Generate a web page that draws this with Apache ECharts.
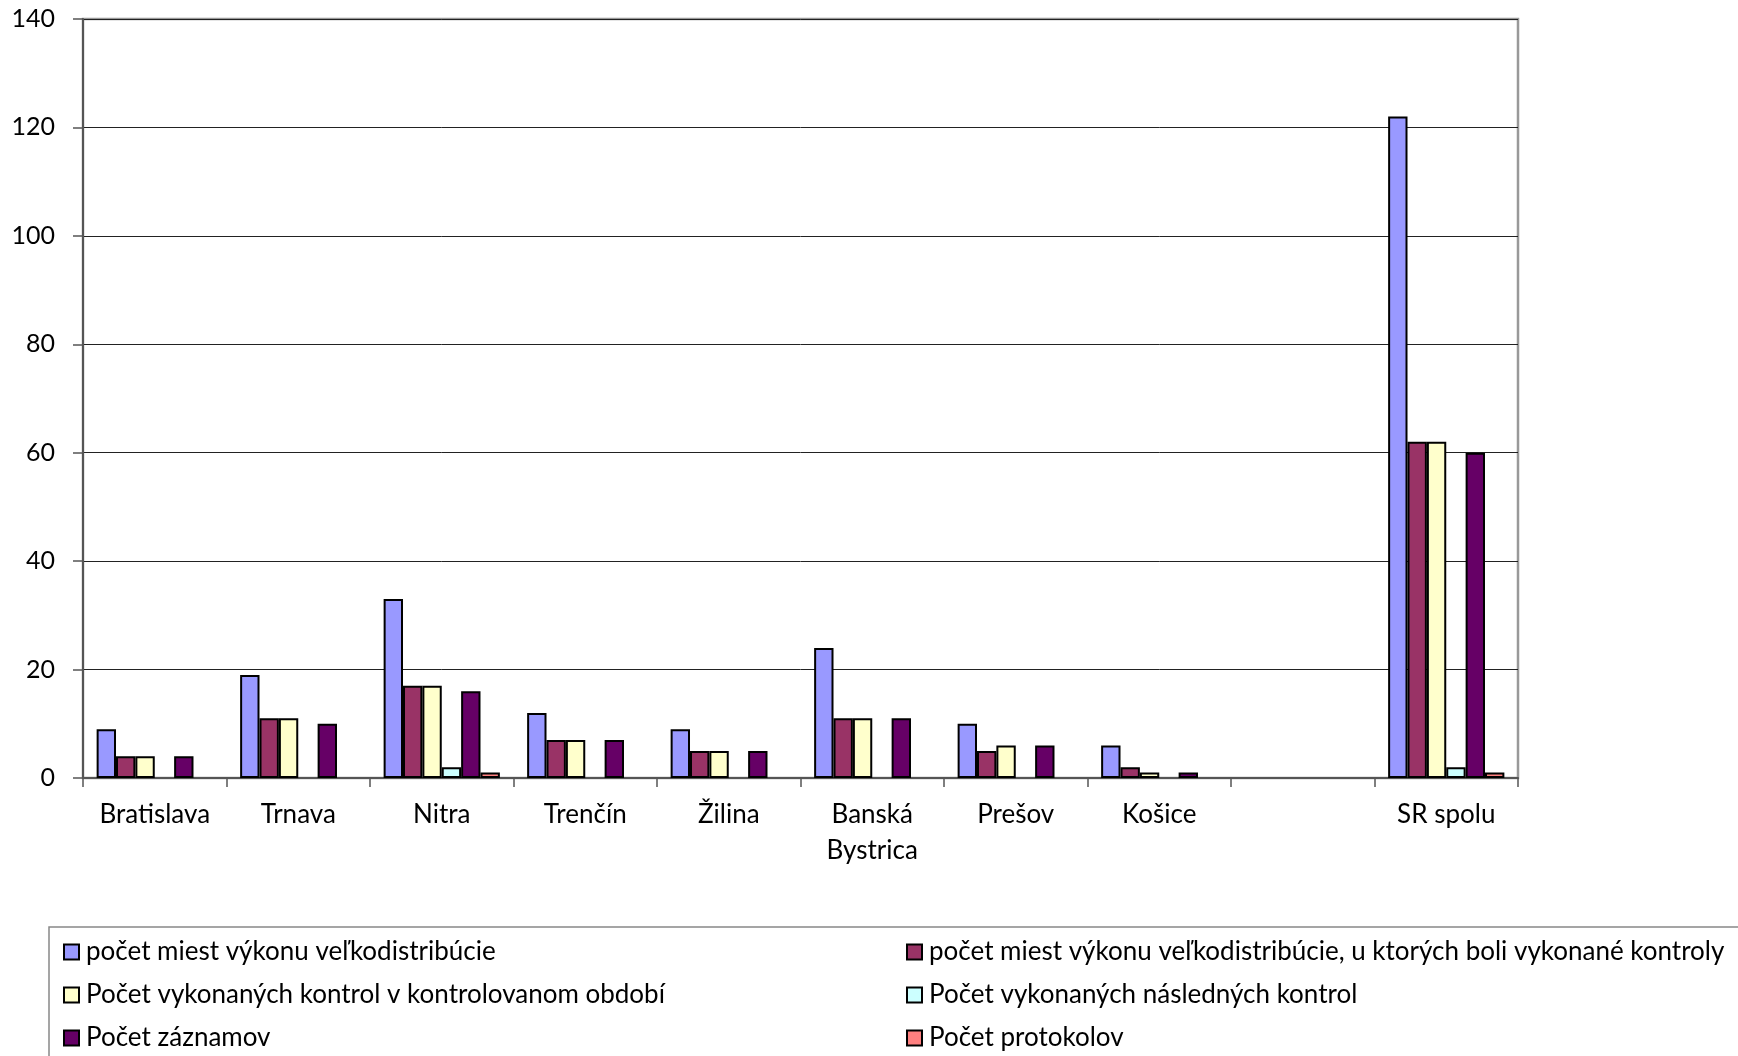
<!DOCTYPE html>
<html>
<head>
<meta charset="utf-8">
<script src="https://cdn.jsdelivr.net/npm/echarts@6/dist/echarts.min.js"></script>
<style>
html,body{margin:0;padding:0;background:#fff;}
#chart{width:1738px;height:1056px;}
</style>
</head>
<body>
<div id="chart"></div>
<script>
const categories = ['Bratislava','Trnava','Nitra','Trenčín','Žilina','Banská\nBystrica','Prešov','Košice','','SR spolu'];
const seriesNames = [
  'počet miest výkonu veľkodistribúcie',
  'počet miest výkonu veľkodistribúcie, u ktorých boli vykonané kontroly',
  'Počet vykonaných kontrol v kontrolovanom období',
  'Počet vykonaných následných kontrol',
  'Počet záznamov',
  'Počet protokolov'
];
const miesta      = [9, 19, 33, 12, 9, 24, 10, 6, null, 122];
const miestaKontr = [4, 11, 17, 7, 5, 11, 5, 2, null, 62];
const kontroly    = [4, 11, 17, 7, 5, 11, 6, 1, null, 62];
const nasledne    = [0, 0, 2, 0, 0, 0, 0, 0, null, 2];
const zaznamy     = [4, 10, 16, 7, 5, 11, 6, 1, null, 60];
const protokoly   = [0, 0, 1, 0, 0, 0, 0, 0, null, 1];
const yTicks = [0, 20, 40, 60, 80, 100, 120, 140];

const colors = ['#9999FF','#993366','#FFFFCC','#CCFFFF','#660066','#FF8080'];
const allData = [miesta, miestaKontr, kontroly, nasledne, zaznamy, protokoly];
const FONT = 'Lato';

const chart = echarts.init(document.getElementById('chart'), null, {renderer:'canvas'});
const legendBase = {
  orient: 'vertical', top: 936, padding: 0, itemGap: 11,
  itemWidth: 15, itemHeight: 15, icon: 'rect',
  itemStyle: {borderColor: '#000', borderWidth: 2},
  textStyle: {color: '#000', fontFamily: FONT, fontSize: 26, lineHeight: 32, padding: [0,0,0,2]}
};
const option = {
  animation: false,
  backgroundColor: '#fff',
  textStyle: {fontFamily: FONT},
  grid: {left: 83, right: 220, top: 19, bottom: 278, show: true, borderColor: '#999', borderWidth: 2.5, containLabel: false},
  xAxis: {
    type: 'category',
    data: categories,
    boundaryGap: true,
    axisLine: {lineStyle: {color: '#555', width: 2}},
    axisTick: {show: true, interval: 0, length: 9, lineStyle: {color: '#555', width: 1.5}},
    axisLabel: {interval: 0, color: '#000', fontFamily: FONT, fontSize: 26, lineHeight: 36, margin: 19}
  },
  yAxis: {
    type: 'value',
    min: yTicks[0], max: yTicks[yTicks.length-1], interval: 20,
    axisLine: {show: true, lineStyle: {color: '#555', width: 2}},
    axisTick: {show: true, length: 10, lineStyle: {color: '#555', width: 1.5}},
    axisLabel: {color: '#000', fontFamily: FONT, fontSize: 25, margin: 28},
    splitLine: {show: true, lineStyle: {color: '#222', width: 1}}
  },
  legend: [
    Object.assign({}, legendBase, {left: 63, data: [seriesNames[0], seriesNames[2], seriesNames[4]]}),
    Object.assign({}, legendBase, {left: 906, data: [seriesNames[1], seriesNames[3], seriesNames[5]]})
  ],
  graphic: [{
    type: 'rect', silent: true, z: -1,
    shape: {x: 49, y: 927, width: 1720, height: 200},
    style: {fill: 'none', stroke: '#888', lineWidth: 1.5}
  }],
  series: allData.map((arr, i) => ({
    name: seriesNames[i],
    type: 'bar',
    barGap: '0%',
    barCategoryGap: '19%',
    data: arr.map(v => (v === 0 ? null : v)),
    itemStyle: {color: colors[i], borderColor: '#000', borderWidth: 2}
  }))
};
chart.setOption(option);
</script>
</body>
</html>
